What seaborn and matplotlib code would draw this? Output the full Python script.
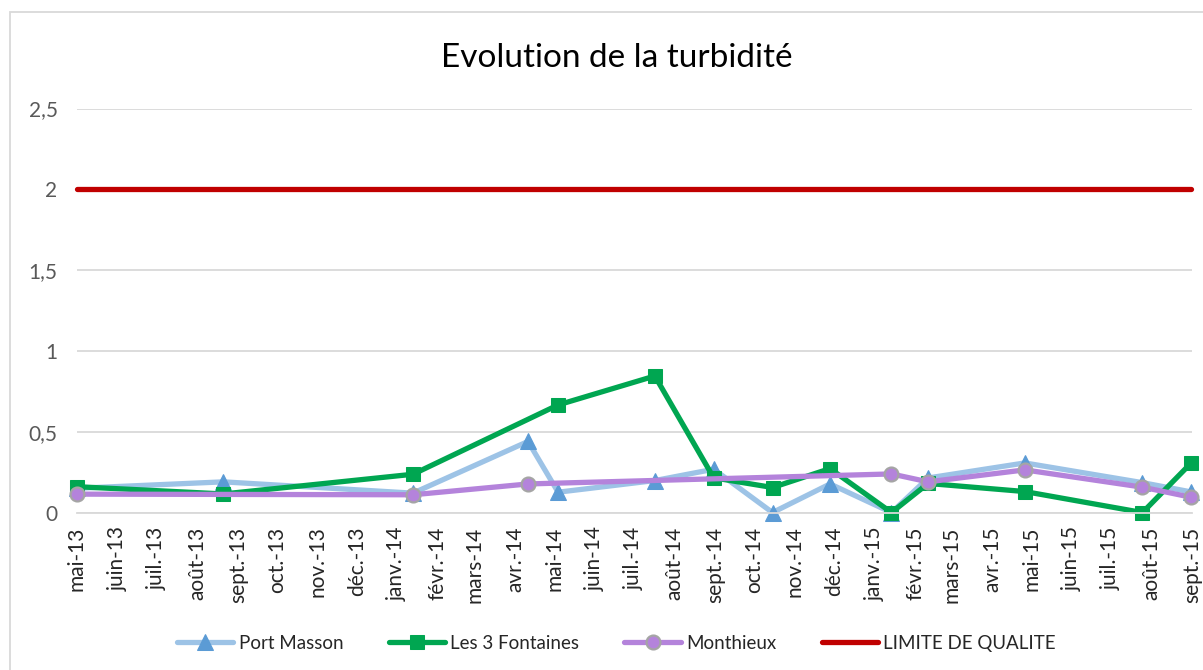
import pandas as pd
import matplotlib
matplotlib.use('Agg')
import matplotlib.pyplot as plt
from matplotlib.patches import Rectangle
import seaborn as sns

# dates des prélèvements, une liste par station
dates_port_masson = ['2013-05-01', '2013-08-21', '2014-01-13', '2014-04-11', '2014-05-04',
                     '2014-07-17', '2014-08-31', '2014-10-15', '2014-11-28', '2015-01-14',
                     '2015-02-11', '2015-04-26', '2015-07-25', '2015-08-31']
port_masson = [0.15, 0.19, 0.12, 0.44, 0.126, 0.198, 0.268, 0.0, 0.177, 0.0,
               0.214, 0.307, 0.185, 0.128]

dates_fontaines = ['2013-05-01', '2013-08-21', '2014-01-13', '2014-05-04', '2014-07-17',
                   '2014-08-31', '2014-10-15', '2014-11-28', '2015-01-14', '2015-02-11',
                   '2015-04-26', '2015-07-25', '2015-08-31']
fontaines = [0.16, 0.115, 0.237, 0.666, 0.845, 0.215, 0.155, 0.272, 0.0, 0.18,
             0.13, 0.0, 0.305]

dates_monthieux = ['2013-05-01', '2014-01-13', '2014-04-11', '2015-01-14', '2015-02-11',
                   '2015-04-26', '2015-07-25', '2015-08-31']
monthieux = [0.114, 0.11, 0.177, 0.239, 0.19, 0.264, 0.157, 0.095]

dates_limite = ['2013-05-01', '2015-08-31']
limite = [2, 2]

mois = ['mai-13', 'juin-13', 'juil.-13', 'août-13', 'sept.-13', 'oct.-13', 'nov.-13',
        'déc.-13', 'janv.-14', 'févr.-14', 'mars-14', 'avr.-14', 'mai-14', 'juin-14',
        'juil.-14', 'août-14', 'sept.-14', 'oct.-14', 'nov.-14', 'déc.-14', 'janv.-15',
        'févr.-15', 'mars-15', 'avr.-15', 'mai-15', 'juin-15', 'juil.-15', 'août-15',
        'sept.-15']
y_ticks = [0, 0.5, 1, 1.5, 2, 2.5]
y_labels = ['0', '0,5', '1', '1,5', '2', '2,5']

sns.set_theme(style='white')
plt.rcParams['font.family'] = ['Lato', 'DejaVu Sans']

fig = plt.figure(figsize=(12.03, 6.7), dpi=100)
ax = fig.add_axes([0.064, 0.235, 0.927, 0.603])

def serie(d, v):
    return pd.DataFrame({'date': pd.to_datetime(d), 'turbidite': v})

sns.lineplot(data=serie(dates_port_masson, port_masson), x='date', y='turbidite', ax=ax,
             color='#9DC3E6', lw=3.8, marker='^', markersize=11,
             markerfacecolor='#5B9BD5', markeredgecolor='#5B9BD5', clip_on=False,
             label='Port Masson')
sns.lineplot(data=serie(dates_fontaines, fontaines), x='date', y='turbidite', ax=ax,
             color='#00A651', lw=3.8, marker='s', markersize=10,
             markerfacecolor='#00A651', markeredgecolor='#00A651', clip_on=False,
             label='Les 3 Fontaines')
sns.lineplot(data=serie(dates_monthieux, monthieux), x='date', y='turbidite', ax=ax,
             color='#B483DB', lw=3.8, marker='o', markersize=10,
             markerfacecolor='#B483DB', markeredgecolor='#A5A5A5', markeredgewidth=1.6,
             clip_on=False, label='Monthieux')
sns.lineplot(data=serie(dates_limite, limite), x='date', y='turbidite', ax=ax,
             color='#C00000', lw=3.8, clip_on=False, label='LIMITE DE QUALITE')

# axes
ticks_x = pd.date_range('2013-05-01', '2015-09-01', freq='MS')
ax.set_xlim(ticks_x[0], ticks_x[-1])
ax.set_xticks(ticks_x)
ax.set_xticklabels(mois, rotation=90)
ax.set_ylim(0, 2.5)
ax.set_yticks(y_ticks)
ax.set_yticklabels(y_labels)
ax.set_xlabel('')
ax.set_ylabel('')

ax.yaxis.grid(True, color='#D9D9D9', lw=1.3)
ax.xaxis.grid(False)
ax.set_axisbelow(True)
for s in ['top', 'right', 'left']:
    ax.spines[s].set_visible(False)
ax.spines['bottom'].set_color('#D9D9D9')
ax.spines['bottom'].set_linewidth(1.3)

ax.tick_params(axis='x', direction='out', length=6, width=1.3, color='#D9D9D9',
               labelsize=15, labelcolor='#262626', pad=4)
ax.tick_params(axis='y', length=0, labelsize=15, labelcolor='#595959', pad=14)

# titre
fig.text(0.5125, 0.913, 'Evolution de la turbidité', ha='center', va='center',
         fontsize=24, color='#000000')

# légende en bas
h, l = ax.get_legend_handles_labels()
ax.get_legend().remove()
fig.legend(h, l, loc='center', bbox_to_anchor=(0.5125, 0.04), ncol=4, frameon=False,
           fontsize=13.5, handlelength=3, columnspacing=2.4, handletextpad=0.3)

# cadre du graphique
fig.add_artist(Rectangle((10 / 1203, -0.1), 1.2, 1.1 - 12 / 670, transform=fig.transFigure,
                         fill=False, edgecolor='#D9D9D9', lw=1.3))

fig.savefig('out.png', dpi=100)
